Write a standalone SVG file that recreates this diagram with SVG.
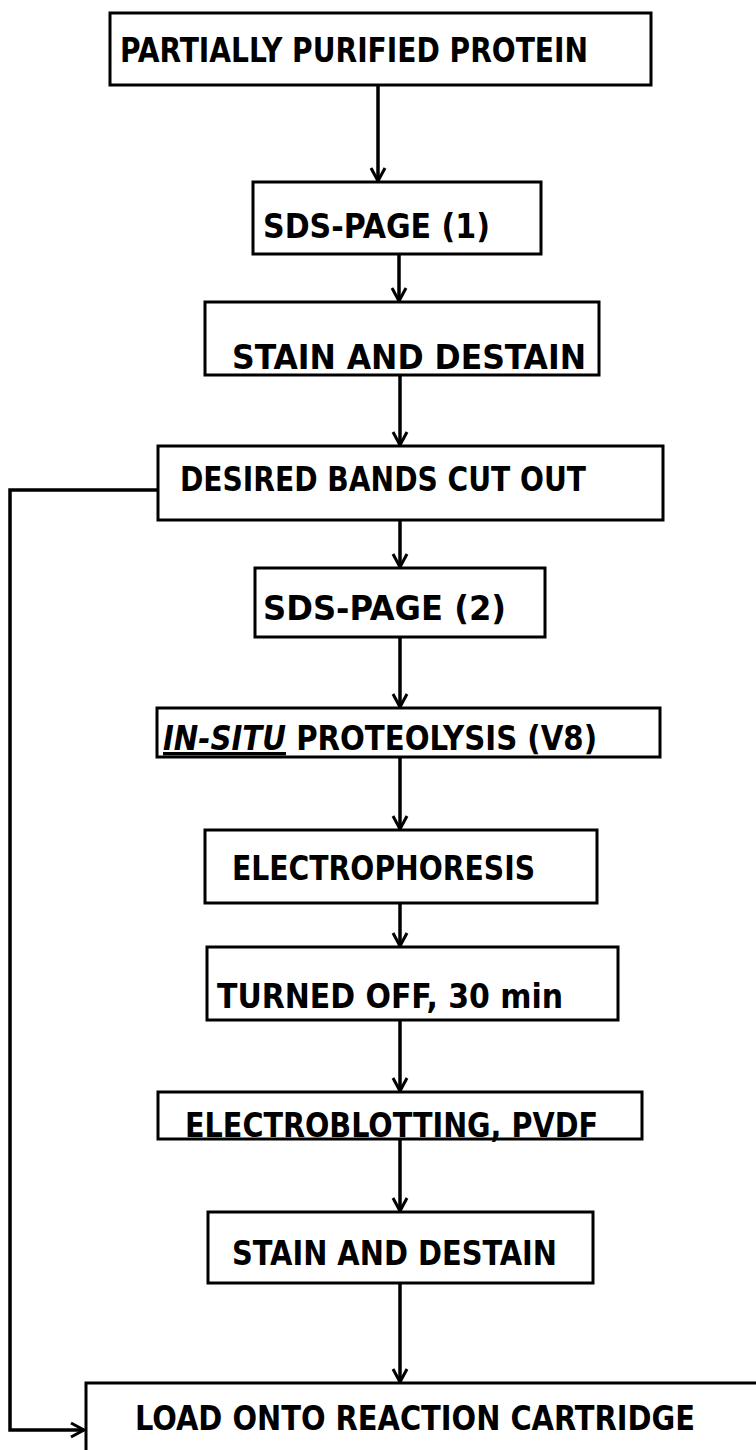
<svg xmlns="http://www.w3.org/2000/svg" width="756" height="1450" viewBox="0 0 756 1450">
<defs>
<style>
.box{fill:#fff;stroke:#000;stroke-width:3}
.t{font-family:"DejaVu Sans Condensed","DejaVu Sans",sans-serif;font-weight:bold;font-size:34px;fill:#000}
.c{fill:none;stroke:#000;stroke-width:3.5}
</style>
<marker id="ah" markerUnits="userSpaceOnUse" markerWidth="20" markerHeight="20" refX="0" refY="0" orient="auto" overflow="visible">
<path d="M -13 -7 L 0 0 L -13 7" fill="none" stroke="#000" stroke-width="3"/>
</marker>
</defs>
<rect width="756" height="1450" fill="#fff"/>
<g id="connectors">
<line class="c" x1="378" y1="85" x2="378" y2="181" marker-end="url(#ah)"/>
<line class="c" x1="399" y1="254" x2="399" y2="301" marker-end="url(#ah)"/>
<line class="c" x1="400" y1="375" x2="400" y2="445" marker-end="url(#ah)"/>
<line class="c" x1="400" y1="520" x2="400" y2="567" marker-end="url(#ah)"/>
<line class="c" x1="400" y1="637" x2="400" y2="707" marker-end="url(#ah)"/>
<line class="c" x1="400" y1="757" x2="400" y2="829" marker-end="url(#ah)"/>
<line class="c" x1="400" y1="903" x2="400" y2="946" marker-end="url(#ah)"/>
<line class="c" x1="400" y1="1020" x2="400" y2="1091" marker-end="url(#ah)"/>
<line class="c" x1="400" y1="1139" x2="400" y2="1211" marker-end="url(#ah)"/>
<line class="c" x1="400" y1="1283" x2="400" y2="1382" marker-end="url(#ah)"/>
<path class="c" d="M 158 490 H 10 V 1430 H 84" stroke-width="2.5" marker-end="url(#ah)"/>
</g>
<g id="n1"><rect class="box" x="110" y="13" width="541" height="72"/><text class="t" x="120" y="62" textLength="468" lengthAdjust="spacingAndGlyphs">PARTIALLY PURIFIED PROTEIN</text></g>
<g id="n2"><rect class="box" x="253" y="182" width="288" height="72"/><text class="t" x="263" y="238" textLength="227" lengthAdjust="spacingAndGlyphs">SDS-PAGE (1)</text></g>
<g id="n3"><rect class="box" x="205" y="302" width="394" height="73"/><text class="t" x="232" y="369" textLength="354" lengthAdjust="spacingAndGlyphs">STAIN AND DESTAIN</text></g>
<g id="n4"><rect class="box" x="158" y="446" width="505" height="74"/><text class="t" x="180" y="491" textLength="406" lengthAdjust="spacingAndGlyphs">DESIRED BANDS CUT OUT</text></g>
<g id="n5"><rect class="box" x="255" y="568" width="290" height="69"/><text class="t" x="263" y="620" textLength="243" lengthAdjust="spacingAndGlyphs">SDS-PAGE (2)</text></g>
<g id="n6"><rect class="box" x="157" y="708" width="503" height="49"/><text class="t" x="163" y="750" font-size="30" textLength="434" lengthAdjust="spacingAndGlyphs"><tspan font-style="italic" text-decoration="underline">IN-SITU</tspan> PROTEOLYSIS (V8)</text></g>
<g id="n7"><rect class="box" x="205" y="830" width="392" height="73"/><text class="t" x="232" y="880" textLength="303" lengthAdjust="spacingAndGlyphs">ELECTROPHORESIS</text></g>
<g id="n8"><rect class="box" x="207" y="947" width="411" height="73"/><text class="t" x="217" y="1008" textLength="346" lengthAdjust="spacingAndGlyphs">TURNED OFF, 30 min</text></g>
<g id="n9"><rect class="box" x="158" y="1092" width="484" height="47"/><text class="t" x="185" y="1137" textLength="413" lengthAdjust="spacingAndGlyphs">ELECTROBLOTTING, PVDF</text></g>
<g id="n10"><rect class="box" x="208" y="1212" width="385" height="71"/><text class="t" x="232" y="1265" textLength="325" lengthAdjust="spacingAndGlyphs">STAIN AND DESTAIN</text></g>
<g id="n11"><path class="box" d="M 86 1452 V 1383 H 758"/><text class="t" x="135" y="1430" textLength="560" lengthAdjust="spacingAndGlyphs">LOAD ONTO REACTION CARTRIDGE</text></g>
</svg>
